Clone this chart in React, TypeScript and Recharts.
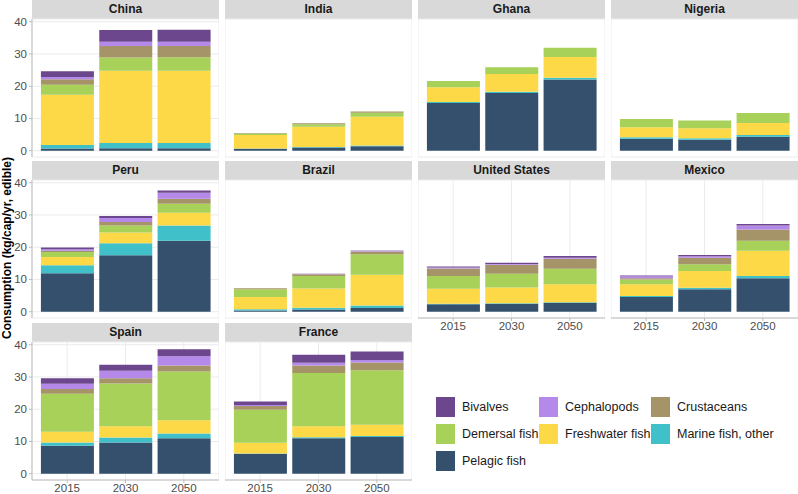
import { BarChart, Bar, XAxis, YAxis, CartesianGrid } from "recharts";

const years = ["2015", "2030", "2050"];
const countries = [
  "China", "India", "Ghana", "Nigeria", "Peru",
  "Brazil", "United States", "Mexico", "Spain", "France",
];

// one value per country and year (2015, 2030, 2050), same order as countries
const pelagic = [
  0.7, 0.8, 0.8, // China
  0.6, 1.0, 1.4, // India
  14.8, 17.9, 22.1, // Ghana
  3.7, 3.4, 4.3, // Nigeria
  11.9, 17.5, 22.0, // Peru
  0.4, 0.7, 1.15, // Brazil
  2.3, 2.5, 2.8, // United States
  4.6, 7.0, 10.4, // Mexico
  8.7, 9.7, 11.0, // Spain
  6.2, 11.0, 11.4, // France
];
const marineOther = [
  1.05, 1.6, 1.6,
  0.1, 0.15, 0.2,
  0.3, 0.4, 0.5,
  0.5, 0.5, 0.6,
  2.5, 3.7, 4.7,
  0.4, 0.55, 0.75,
  0.2, 0.1, 0.1,
  0.3, 0.4, 0.7,
  1.0, 1.5, 1.5,
  0.1, 0.3, 0.3,
];
const freshwater = [
  15.6, 22.4, 22.4,
  4.2, 6.25, 8.9,
  4.6, 5.5, 6.5,
  3.1, 3.1, 3.7,
  2.6, 3.4, 4.0,
  3.8, 5.95, 9.6,
  4.6, 4.9, 5.6,
  3.6, 5.2, 7.8,
  3.3, 3.5, 4.1,
  3.3, 3.4, 3.5,
];
const demersal = [
  3.1, 4.1, 4.2,
  0.4, 0.8, 1.3,
  1.9, 2.1, 2.8,
  2.5, 2.4, 3.1,
  1.5, 2.1, 2.8,
  2.4, 3.9, 6.3,
  4.0, 4.3, 4.8,
  1.5, 2.1, 3.1,
  11.8, 13.3, 15.1,
  10.2, 16.5, 16.9,
];
const crustaceans = [
  1.7, 3.6, 3.5,
  0.2, 0.3, 0.4,
  0, 0, 0,
  0, 0, 0,
  0.4, 1.1, 1.5,
  0.3, 0.5, 0.9,
  2.3, 2.8, 3.1,
  0.4, 2.0, 3.5,
  1.5, 1.6, 1.9,
  1.2, 2.4, 2.4,
];
const cephalopods = [
  0.7, 1.3, 1.3,
  0, 0, 0,
  0, 0, 0,
  0, 0, 0,
  0.5, 1.3, 1.9,
  0, 0.1, 0.2,
  0.3, 0.2, 0.3,
  0.6, 0.5, 1.2,
  1.6, 2.3, 2.8,
  0.3, 0.8, 0.8,
];
const bivalves = [
  1.8, 3.6, 3.7,
  0, 0, 0,
  0, 0, 0,
  0, 0, 0,
  0.5, 0.6, 0.7,
  0, 0.05, 0.1,
  0.3, 0.4, 0.6,
  0.2, 0.4, 0.5,
  1.7, 1.9, 2.2,
  1.1, 2.5, 2.6,
];

const yTicks = [0, 10, 20, 30, 40];

// stacking order, bottom to top
const groups = [
  { key: "pelagic", name: "Pelagic fish", color: "#34506C", values: pelagic },
  { key: "marine", name: "Marine fish, other", color: "#40C1C9", values: marineOther },
  { key: "freshwater", name: "Freshwater fish", color: "#FDD847", values: freshwater },
  { key: "demersal", name: "Demersal fish", color: "#A8D15A", values: demersal },
  { key: "crustaceans", name: "Crustaceans", color: "#A59467", values: crustaceans },
  { key: "cephalopods", name: "Cephalopods", color: "#B489EA", values: cephalopods },
  { key: "bivalves", name: "Bivalves", color: "#6D478D", values: bivalves },
];

const legendOrder = [
  "Bivalves", "Cephalopods", "Crustaceans",
  "Demersal fish", "Freshwater fish", "Marine fish, other",
  "Pelagic fish",
];

const FONT = '"Liberation Sans", Arial, Helvetica, sans-serif';
const colX = [32, 225, 418, 611];
const rowTop = [0, 161, 323];
const PW = 187;
const STRIP = 19;
const PH = 138;
const YW = 32;
const PAD = 8;
const XH = 17;

function YTick(props: any) {
  const { x, y, payload } = props;
  return (
    <text x={x} y={y} dy={4} textAnchor="end" fill="#4D4D4D" fontSize={11.5}>
      {String(payload.value)}
    </text>
  );
}

function Panel({ index }: { index: number }) {
  const col = index % 4;
  const row = Math.floor(index / 4);
  const showY = col === 0;
  const showX = index >= 6;
  const rows = years.map((year, j) => {
    const r: Record<string, string | number> = { year };
    groups.forEach((g) => {
      r[g.key] = g.values[index * 3 + j];
    });
    return r;
  });
  const left = colX[col];
  const top = rowTop[row];
  return (
    <>
      <div
        style={{
          position: "absolute",
          left,
          top,
          width: PW,
          height: STRIP,
          background: "#D9D9D9",
          fontWeight: "bold",
          fontSize: 12,
          lineHeight: STRIP + "px",
          textAlign: "center",
          color: "#1A1A1A",
        }}
      >
        {countries[index]}
      </div>
      <div
        style={{
          position: "absolute",
          left: left - (showY ? YW : 0),
          top: top + STRIP - PAD,
          zIndex: 2,
        }}
      >
        <BarChart
          width={PW + (showY ? YW : 0)}
          height={PAD + PH + XH}
          data={rows}
          margin={{ top: PAD, right: 0, bottom: 0, left: 0 }}
          barCategoryGap="5%"
        >
          <CartesianGrid stroke="#EBEBEB" strokeWidth={1} />
          <XAxis
            dataKey="year"
            type="category"
            padding={{ left: 6, right: 6 }}
            height={XH}
            interval={0}
            tick={showX ? { fill: "#4D4D4D", fontSize: 11.5 } : false}
            axisLine={showX}
            tickLine={showX}
            tickSize={3}
            tickMargin={1}
            stroke="#BDBDBD"
          />
          <YAxis
            type="number"
            domain={[-1.95, 40.85]}
            ticks={yTicks}
            interval={0}
            allowDataOverflow
            width={showY ? YW : 0}
            tick={showY ? <YTick /> : false}
            axisLine={showY}
            tickLine={showY}
            tickSize={3}
            tickMargin={2}
            stroke="#BDBDBD"
          />
          {groups.map((g) => (
            <Bar
              key={g.key}
              dataKey={g.key}
              name={g.name}
              stackId="a"
              fill={g.color}
              isAnimationActive={false}
            />
          ))}
        </BarChart>
      </div>
    </>
  );
}

function Legend() {
  return (
    <div style={{ position: "absolute", left: 436, top: 397 }}>
      {legendOrder.map((name, i) => {
        const g = groups.find((x) => x.name === name)!;
        const c = i % 3;
        const r = Math.floor(i / 3);
        const xs = [0, 103, 215];
        return (
          <div
            key={name}
            style={{
              position: "absolute",
              left: xs[c],
              top: r * 27,
              display: "flex",
              alignItems: "center",
              whiteSpace: "nowrap",
            }}
          >
            <div style={{ width: 19, height: 20, background: g.color }} />
            <span style={{ marginLeft: 7, fontSize: 12.5, color: "#1A1A1A" }}>{name}</span>
          </div>
        );
      })}
    </div>
  );
}

export default function App() {
  return (
    <div
      style={{
        position: "absolute",
        left: 0,
        top: 0,
        width: 798,
        height: 494,
        background: "#fff",
        fontFamily: FONT,
        overflow: "hidden",
      }}
    >
      {countries.map((c, i) => (
        <Panel key={c} index={i} />
      ))}
      <div
        style={{
          position: "absolute",
          left: 7,
          top: 248,
          transform: "translate(-50%, -50%) rotate(-90deg)",
          fontWeight: "bold",
          fontSize: 12,
          whiteSpace: "nowrap",
          color: "#000",
        }}
      >
        Consumption (kg/cap/yr, edible)
      </div>
      <Legend />
    </div>
  );
}
